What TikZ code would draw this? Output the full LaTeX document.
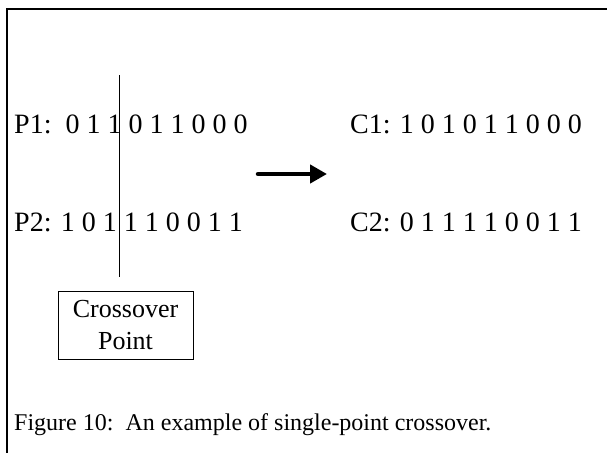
\documentclass[tikz,border=0pt]{standalone}
\usepackage{fontspec}
\setmainfont{Liberation Serif}
\usetikzlibrary{arrows.meta}

\begin{document}
\begin{tikzpicture}[x=1pt, y=-1pt,
    chaine/.style={anchor=base west, inner sep=0pt, font=\fontsize{28}{32}\selectfont},
    legende/.style={draw, line width=1pt, minimum width=135pt, minimum height=68pt,
        align=center, inner sep=0pt, font=\fontsize{26}{32}\selectfont}]
    \useasboundingbox (0,0) rectangle (607,453);

    % Cadre
    \draw[line width=2pt] (607,9) -- (6.5,9) -- (6.5,453);

    % Définition des nœuds : parents et enfants
    \node[chaine] (p1) at (14,133) {P1:\ \ 0 1 1 0 1 1 0 0 0};
    \node[chaine] (p2) at (14,231) {P2: 1 0 1 1 1 0 0 1 1};
    \node[chaine] (c1) at (350,133) {C1: 1 0 1 0 1 1 0 0 0};
    \node[chaine] (c2) at (350,231) {C2: 0 1 1 1 1 0 0 1 1};

    % Point de croisement
    \coordinate (haut) at (119,75);
    \coordinate (bas) at (119,277);
    \draw[line width=1pt] (haut) -- (bas);
    \node[legende] (point) at (125.5,325) {Crossover\\Point};

    % Flèche parents -> enfants
    \coordinate (depart) at (258,174);
    \coordinate (arrivee) at (327,174);
    \draw[-{Triangle[length=17pt,width=18pt]}, line width=4.5pt, line cap=round] (depart) -- (arrivee);

    % Légende
    \node[chaine, font=\fontsize{24}{28}\selectfont] (titre) at (14,430)
        {Figure 10:\ \ An example of single-point crossover.};
\end{tikzpicture}
\end{document}
